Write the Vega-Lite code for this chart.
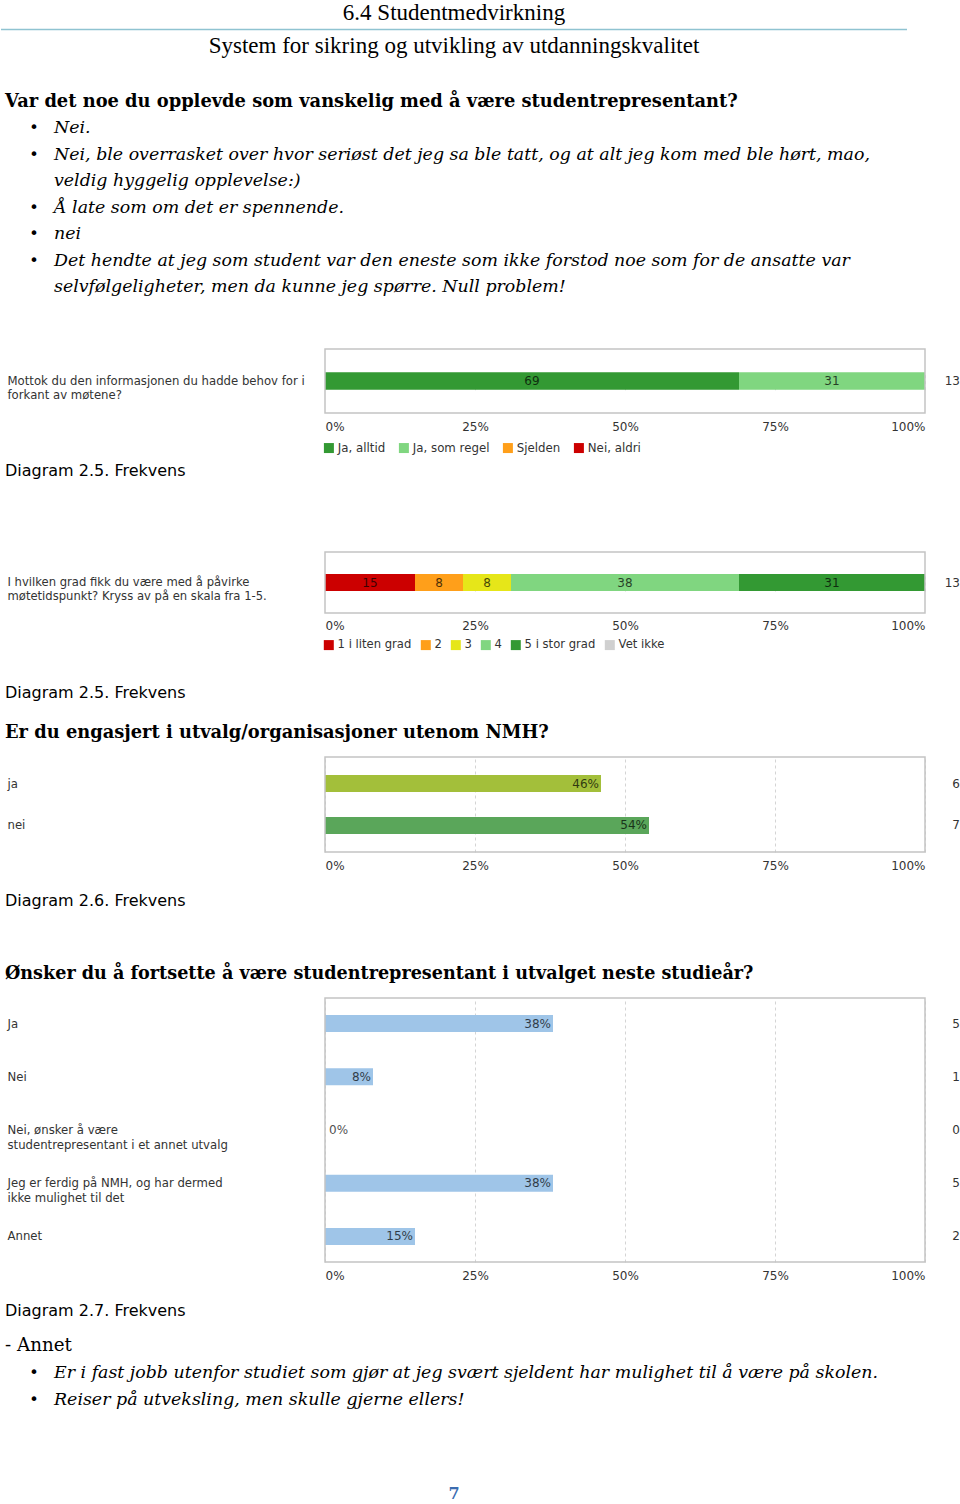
{
  "$schema": "https://vega.github.io/schema/vega-lite/v6.json",
  "padding": 0,
  "background": "white",
  "spacing": 0,
  "bounds": "flush",
  "resolve": {"scale": {"color": "independent", "x": "independent", "y": "independent"}, "legend": {"color": "independent"}},
  "config": {
    "view": {"stroke": null},
    "axis": {"domain": false, "ticks": false, "tickSize": 0, "labelFont": "DejaVu Sans", "labelFontSize": 12, "labelColor": "#333333", "labelOverlap": false},
    "legend": {"labelFont": "DejaVu Sans", "labelFontSize": 11.8, "labelColor": "#333333", "padding": 0},
    "text": {"font": "DejaVu Sans", "baseline": "middle"}
  },
  "vconcat": [
    {
      "width": 906, "height": 58,
      "data": {"values": [
        {"line": 1, "kind": "title", "text": "6.4 Studentmedvirkning"},
        {"line": 2, "kind": "rule", "text": ""},
        {"line": 3, "kind": "title", "text": "System for sikring og utvikling av utdanningskvalitet"}
      ]},
      "layer": [
        {"transform": [{"filter": "datum.kind == 'title'"}],
         "mark": {"type": "text", "font": "Liberation Serif", "fontSize": 23, "align": "center", "fill": "#000000"},
         "encoding": {"y": {"field": "line", "type": "ordinal", "scale": {"type": "point", "padding": 0, "range": [13, 46]}, "axis": null}, "text": {"field": "text"}}},
        {"transform": [{"filter": "datum.kind == 'rule'"}],
         "mark": {"type": "rule", "stroke": "#8fc3d1", "strokeWidth": 1.5},
         "encoding": {"y": {"field": "line", "type": "ordinal", "axis": null}}}
      ]
    },
    {
      "width": 960, "height": 291,
      "data": {"values": [
        {"line": 1, "kind": "heading", "level": 0, "bullet": false, "text": "Var det noe du opplevde som vanskelig med å være studentrepresentant?"},
        {"line": 2, "kind": "item", "level": 1, "bullet": true, "text": "Nei."},
        {"line": 3, "kind": "item", "level": 1, "bullet": true, "text": "Nei, ble overrasket over hvor seriøst det jeg sa ble tatt, og at alt jeg kom med ble hørt, mao,"},
        {"line": 4, "kind": "item", "level": 1, "bullet": false, "text": "veldig hyggelig opplevelse:)"},
        {"line": 5, "kind": "item", "level": 1, "bullet": true, "text": "Å late som om det er spennende."},
        {"line": 6, "kind": "item", "level": 1, "bullet": true, "text": "nei"},
        {"line": 7, "kind": "item", "level": 1, "bullet": true, "text": "Det hendte at jeg som student var den eneste som ikke forstod noe som for de ansatte var"},
        {"line": 8, "kind": "item", "level": 1, "bullet": false, "text": "selvfølgeligheter, men da kunne jeg spørre. Null problem!"}
      ]},
      "encoding": {
        "y": {"field": "line", "type": "ordinal", "scale": {"type": "point", "padding": 0, "range": [44, 229]}, "axis": null},
        "x": {"field": "level", "type": "quantitative", "scale": {"domain": [0, 1], "range": [4, 53]}, "axis": null}
      },
      "layer": [
        {"transform": [{"filter": "datum.kind == 'heading'"}],
         "mark": {"type": "text", "align": "left", "font": "DejaVu Serif", "fontSize": 17.85, "fontWeight": "bold", "fill": "#000000"},
         "encoding": {"text": {"field": "text"}}},
        {"transform": [{"filter": "datum.kind == 'item'"}],
         "mark": {"type": "text", "align": "left", "font": "DejaVu Serif", "fontSize": 17.4, "fontStyle": "italic", "fill": "#000000"},
         "encoding": {"text": {"field": "text"}}},
        {"transform": [{"filter": "datum.bullet"}],
         "mark": {"type": "text", "align": "center", "dx": -20, "font": "DejaVu Sans", "fontSize": 16, "fill": "#000000"},
         "encoding": {"text": {"value": "•"}}}
      ]
    },
    {
      "width": 960, "height": 64,
      "data": {"values": [
        {"question": "Mottok du den informasjonen du hadde behov for i\nforkant av møtene?", "answer": "Ja, alltid", "rank": 1, "pct": 69, "n": 13},
        {"question": "Mottok du den informasjonen du hadde behov for i\nforkant av møtene?", "answer": "Ja, som regel", "rank": 2, "pct": 31, "n": 13},
        {"question": "Mottok du den informasjonen du hadde behov for i\nforkant av møtene?", "answer": "Sjelden", "rank": 3, "pct": 0, "n": 13},
        {"question": "Mottok du den informasjonen du hadde behov for i\nforkant av møtene?", "answer": "Nei, aldri", "rank": 4, "pct": 0, "n": 13}
      ]},
      "layer": [
        {"mark": {"type": "bar"},
         "encoding": {
           "y": {"field": "question", "type": "nominal", "title": null, "scale": {"type": "band", "paddingInner": 0, "paddingOuter": 0, "range": [23.25, 40.75]},
                 "axis": {"labelAlign": "left", "labelBaseline": "middle", "offset": -6, "labelPadding": 0, "labelLimit": 500, "labelFontSize": 11.7, "labelExpr": "split(datum.label, '\\n')", "labelLineHeight": 14}},
           "x": {"field": "pct", "type": "quantitative", "stack": "zero", "title": null, "scale": {"domain": [0, 100], "range": [324, 924]},
                 "axis": {"values": [0, 25, 50, 75, 100], "labelExpr": "datum.value + '%'", "labelFlush": true, "grid": true, "gridDash": [3, 3], "gridColor": "#d4d4d4", "labelPadding": 8}},
           "color": {"field": "answer", "type": "nominal", "scale": {"domain": ["Ja, alltid", "Ja, som regel", "Sjelden", "Nei, aldri"], "range": ["#339933", "#80d680", "#ff9f1a", "#cc0000"]},
                     "legend": {"orient": "none", "legendX": 322, "legendY": 93, "direction": "horizontal", "title": null, "symbolType": "square", "symbolSize": 100, "symbolStrokeWidth": 0, "columnPadding": 12, "labelOffset": 3}},
           "order": {"field": "rank", "type": "quantitative"}
         }},
        {"transform": [{"filter": "datum.pct > 0"}],
         "mark": {"type": "text", "fontSize": 12, "fill": "#000000", "opacity": 0.7},
         "encoding": {
           "y": {"field": "question", "type": "nominal", "title": null},
           "x": {"field": "pct", "type": "quantitative", "stack": "zero", "bandPosition": 0.5, "title": null},
           "detail": {"field": "answer"},
           "order": {"field": "rank", "type": "quantitative"},
           "text": {"field": "pct", "type": "quantitative"}
         }},
        {"transform": [{"filter": "datum.rank == 1"}],
         "mark": {"type": "text", "align": "right", "dx": 35, "fontSize": 12, "fill": "#333333"},
         "encoding": {
           "y": {"field": "question", "type": "nominal", "title": null},
           "x": {"datum": 100},
           "text": {"field": "n", "type": "quantitative"}
         }},
        {"data": {"values": [{"frame": "plot"}]},
         "mark": {"type": "rect", "fill": "transparent", "stroke": "#c4c4c4", "strokeWidth": 1.5},
         "encoding": {"x": {"datum": 0}, "x2": {"datum": 100}}}
      ]
    },
    {
      "width": 960, "height": 139,
      "data": {"values": [{"line": 1, "level": 0, "text": "Diagram 2.5. Frekvens"}]},
      "mark": {"type": "text", "align": "left", "font": "DejaVu Sans", "fontSize": 16, "fill": "#000000"},
      "encoding": {
        "y": {"field": "line", "type": "ordinal", "scale": {"type": "point", "padding": 0, "range": [57.5, 57.5]}, "axis": null},
        "x": {"field": "level", "type": "quantitative", "scale": {"domain": [0, 1], "range": [4, 53]}, "axis": null},
        "text": {"field": "text"}
      }
    },
    {
      "width": 960, "height": 61,
      "data": {"values": [
        {"question": "I hvilken grad fikk du være med å påvirke\nmøtetidspunkt? Kryss av på en skala fra 1-5.", "answer": "1 i liten grad", "rank": 1, "pct": 15, "n": 13},
        {"question": "I hvilken grad fikk du være med å påvirke\nmøtetidspunkt? Kryss av på en skala fra 1-5.", "answer": "2", "rank": 2, "pct": 8, "n": 13},
        {"question": "I hvilken grad fikk du være med å påvirke\nmøtetidspunkt? Kryss av på en skala fra 1-5.", "answer": "3", "rank": 3, "pct": 8, "n": 13},
        {"question": "I hvilken grad fikk du være med å påvirke\nmøtetidspunkt? Kryss av på en skala fra 1-5.", "answer": "4", "rank": 4, "pct": 38, "n": 13},
        {"question": "I hvilken grad fikk du være med å påvirke\nmøtetidspunkt? Kryss av på en skala fra 1-5.", "answer": "5 i stor grad", "rank": 5, "pct": 31, "n": 13},
        {"question": "I hvilken grad fikk du være med å påvirke\nmøtetidspunkt? Kryss av på en skala fra 1-5.", "answer": "Vet ikke", "rank": 6, "pct": 0, "n": 13}
      ]},
      "layer": [
        {"mark": {"type": "bar"},
         "encoding": {
           "y": {"field": "question", "type": "nominal", "title": null, "scale": {"type": "band", "paddingInner": 0, "paddingOuter": 0, "range": [22, 39]},
                 "axis": {"labelAlign": "left", "labelBaseline": "middle", "offset": -6, "labelPadding": 0, "labelLimit": 500, "labelFontSize": 11.6, "labelExpr": "split(datum.label, '\\n')", "labelLineHeight": 14}},
           "x": {"field": "pct", "type": "quantitative", "stack": "zero", "title": null, "scale": {"domain": [0, 100], "range": [324, 924]},
                 "axis": {"values": [0, 25, 50, 75, 100], "labelExpr": "datum.value + '%'", "labelFlush": true, "grid": true, "gridDash": [3, 3], "gridColor": "#d4d4d4", "labelPadding": 7}},
           "color": {"field": "answer", "type": "nominal", "scale": {"domain": ["1 i liten grad", "2", "3", "4", "5 i stor grad", "Vet ikke"], "range": ["#cc0000", "#ff9f1a", "#e6e619", "#80d680", "#339933", "#d0d0d0"]},
                     "legend": {"orient": "none", "legendX": 322, "legendY": 87, "direction": "horizontal", "title": null, "symbolType": "square", "symbolSize": 100, "symbolStrokeWidth": 0, "columnPadding": 8, "labelOffset": 3, "labelFontSize": 11.6}},
           "order": {"field": "rank", "type": "quantitative"}
         }},
        {"transform": [{"filter": "datum.pct > 0"}],
         "mark": {"type": "text", "fontSize": 12, "fill": "#000000", "opacity": 0.7},
         "encoding": {
           "y": {"field": "question", "type": "nominal", "title": null},
           "x": {"field": "pct", "type": "quantitative", "stack": "zero", "bandPosition": 0.5, "title": null},
           "detail": {"field": "answer"},
           "order": {"field": "rank", "type": "quantitative"},
           "text": {"field": "pct", "type": "quantitative"}
         }},
        {"transform": [{"filter": "datum.rank == 1"}],
         "mark": {"type": "text", "align": "right", "dx": 35, "fontSize": 12, "fill": "#333333"},
         "encoding": {
           "y": {"field": "question", "type": "nominal", "title": null},
           "x": {"datum": 100},
           "text": {"field": "n", "type": "quantitative"}
         }},
        {"data": {"values": [{"frame": "plot"}]},
         "mark": {"type": "rect", "fill": "transparent", "stroke": "#c4c4c4", "strokeWidth": 1.5},
         "encoding": {"x": {"datum": 0}, "x2": {"datum": 100}}}
      ]
    },
    {
      "width": 960, "height": 144,
      "data": {"values": [
        {"line": 1, "kind": "caption", "level": 0, "text": "Diagram 2.5. Frekvens"},
        {"line": 2, "kind": "heading", "level": 0, "text": "Er du engasjert i utvalg/organisasjoner utenom NMH?"}
      ]},
      "encoding": {
        "y": {"field": "line", "type": "ordinal", "scale": {"type": "point", "padding": 0, "range": [79.5, 120]}, "axis": null},
        "x": {"field": "level", "type": "quantitative", "scale": {"domain": [0, 1], "range": [4, 53]}, "axis": null}
      },
      "layer": [
        {"transform": [{"filter": "datum.kind == 'caption'"}],
         "mark": {"type": "text", "align": "left", "font": "DejaVu Sans", "fontSize": 16, "fill": "#000000"},
         "encoding": {"text": {"field": "text"}}},
        {"transform": [{"filter": "datum.kind == 'heading'"}],
         "mark": {"type": "text", "align": "left", "font": "DejaVu Serif", "fontSize": 17.85, "fontWeight": "bold", "fill": "#000000"},
         "encoding": {"text": {"field": "text"}}}
      ]
    },
    {
      "width": 960, "height": 95,
      "data": {"values": [
        {"answer": "ja", "share": 0.46, "n": 6},
        {"answer": "nei", "share": 0.54, "n": 7}
      ]},
      "layer": [
        {"mark": {"type": "bar"},
         "encoding": {
           "y": {"field": "answer", "type": "nominal", "sort": null, "title": null, "scale": {"type": "band", "paddingInner": 0.595, "paddingOuter": 0.4285},
                 "axis": {"labelAlign": "left", "labelBaseline": "middle", "offset": -6, "labelPadding": 0, "labelLimit": 500, "labelFontSize": 11.7, "labelExpr": "split(datum.label, '\\n')", "labelLineHeight": 14.5}},
           "x": {"field": "share", "type": "quantitative", "stack": null, "title": null, "scale": {"domain": [0, 1], "range": [324, 924]},
                 "axis": {"values": [0, 0.25, 0.5, 0.75, 1], "format": ".0%", "labelFlush": true, "grid": true, "gridDash": [3, 3], "gridColor": "#d4d4d4", "labelPadding": 8}},
           "color": {"field": "answer", "type": "nominal", "scale": {"domain": ["ja", "nei"], "range": ["#a3bf3a", "#5aa65a"]}, "legend": null}
         }},
        {"transform": [{"filter": "datum.share > 0"}],
         "mark": {"type": "text", "align": "right", "dx": -2, "fontSize": 12, "fill": "#000000", "opacity": 0.7},
         "encoding": {
           "y": {"field": "answer", "type": "nominal", "sort": null, "title": null},
           "x": {"field": "share", "type": "quantitative", "stack": null, "title": null},
           "text": {"field": "share", "type": "quantitative", "format": ".0%"}
         }},
        {"mark": {"type": "text", "align": "right", "dx": 35, "fontSize": 12, "fill": "#333333"},
         "encoding": {
           "y": {"field": "answer", "type": "nominal", "sort": null, "title": null},
           "x": {"datum": 1},
           "text": {"field": "n", "type": "quantitative"}
         }},
        {"data": {"values": [{"frame": "plot"}]},
         "mark": {"type": "rect", "fill": "transparent", "stroke": "#c4c4c4", "strokeWidth": 1.5},
         "encoding": {"x": {"datum": 0}, "x2": {"datum": 1}}}
      ]
    },
    {
      "width": 960, "height": 146,
      "data": {"values": [
        {"line": 1, "kind": "caption", "level": 0, "text": "Diagram 2.6. Frekvens"},
        {"line": 2, "kind": "heading", "level": 0, "text": "Ønsker du å fortsette å være studentrepresentant i utvalget neste studieår?"}
      ]},
      "encoding": {
        "y": {"field": "line", "type": "ordinal", "scale": {"type": "point", "padding": 0, "range": [48.5, 122]}, "axis": null},
        "x": {"field": "level", "type": "quantitative", "scale": {"domain": [0, 1], "range": [4, 53]}, "axis": null}
      },
      "layer": [
        {"transform": [{"filter": "datum.kind == 'caption'"}],
         "mark": {"type": "text", "align": "left", "font": "DejaVu Sans", "fontSize": 16, "fill": "#000000"},
         "encoding": {"text": {"field": "text"}}},
        {"transform": [{"filter": "datum.kind == 'heading'"}],
         "mark": {"type": "text", "align": "left", "font": "DejaVu Serif", "fontSize": 17.6, "fontWeight": "bold", "fill": "#000000"},
         "encoding": {"text": {"field": "text"}}}
      ]
    },
    {
      "width": 960, "height": 264,
      "data": {"values": [
        {"answer": "Ja", "share": 0.38, "n": 5},
        {"answer": "Nei", "share": 0.08, "n": 1},
        {"answer": "Nei, ønsker å være\nstudentrepresentant i et annet utvalg", "share": 0, "n": 0},
        {"answer": "Jeg er ferdig på NMH, og har dermed\nikke mulighet til det", "share": 0.38, "n": 5},
        {"answer": "Annet", "share": 0.15, "n": 2}
      ]},
      "layer": [
        {"mark": {"type": "bar", "fill": "#9fc5e8"},
         "encoding": {
           "y": {"field": "answer", "type": "nominal", "sort": null, "title": null, "scale": {"type": "band", "paddingInner": 0.681, "paddingOuter": 0.3195},
                 "axis": {"labelAlign": "left", "labelBaseline": "middle", "offset": -6, "labelPadding": 0, "labelLimit": 500, "labelFontSize": 11.7, "labelExpr": "split(datum.label, '\\n')", "labelLineHeight": 15}},
           "x": {"field": "share", "type": "quantitative", "stack": null, "title": null, "scale": {"domain": [0, 1], "range": [324, 924]},
                 "axis": {"values": [0, 0.25, 0.5, 0.75, 1], "format": ".0%", "labelFlush": true, "grid": true, "gridDash": [3, 3], "gridColor": "#d4d4d4", "labelPadding": 8}}
         }},
        {"transform": [{"filter": "datum.share > 0"}],
         "mark": {"type": "text", "align": "right", "dx": -2, "fontSize": 12, "fill": "#000000", "opacity": 0.7},
         "encoding": {
           "y": {"field": "answer", "type": "nominal", "sort": null, "title": null},
           "x": {"field": "share", "type": "quantitative", "stack": null, "title": null},
           "text": {"field": "share", "type": "quantitative", "format": ".0%"}
         }},
        {"transform": [{"filter": "datum.share == 0"}],
         "mark": {"type": "text", "align": "left", "dx": 4, "fontSize": 12, "fill": "#000000", "opacity": 0.7},
         "encoding": {
           "y": {"field": "answer", "type": "nominal", "sort": null, "title": null},
           "x": {"field": "share", "type": "quantitative", "stack": null, "title": null},
           "text": {"field": "share", "type": "quantitative", "format": ".0%"}
         }},
        {"mark": {"type": "text", "align": "right", "dx": 35, "fontSize": 12, "fill": "#333333"},
         "encoding": {
           "y": {"field": "answer", "type": "nominal", "sort": null, "title": null},
           "x": {"datum": 1},
           "text": {"field": "n", "type": "quantitative"}
         }},
        {"data": {"values": [{"frame": "plot"}]},
         "mark": {"type": "rect", "fill": "transparent", "stroke": "#c4c4c4", "strokeWidth": 1.5},
         "encoding": {"x": {"datum": 0}, "x2": {"datum": 1}}}
      ]
    },
    {
      "width": 960, "height": 65,
      "data": {"values": [{"line": 1, "level": 0, "text": "Diagram 2.7. Frekvens"}]},
      "mark": {"type": "text", "align": "left", "font": "DejaVu Sans", "fontSize": 16, "fill": "#000000"},
      "encoding": {
        "y": {"field": "line", "type": "ordinal", "scale": {"type": "point", "padding": 0, "range": [48.5, 48.5]}, "axis": null},
        "x": {"field": "level", "type": "quantitative", "scale": {"domain": [0, 1], "range": [4, 53]}, "axis": null},
        "text": {"field": "text"}
      }
    },
    {
      "width": 960, "height": 123,
      "data": {"values": [
        {"line": 1, "kind": "plain", "level": 0, "bullet": false, "text": "- Annet"},
        {"line": 2, "kind": "item", "level": 1, "bullet": true, "text": "Er i fast jobb utenfor studiet som gjør at jeg svært sjeldent har mulighet til å være på skolen."},
        {"line": 3, "kind": "item", "level": 1, "bullet": true, "text": "Reiser på utveksling, men skulle gjerne ellers!"}
      ]},
      "encoding": {
        "y": {"field": "line", "type": "ordinal", "scale": {"type": "point", "padding": 0, "range": [19, 73]}, "axis": null},
        "x": {"field": "level", "type": "quantitative", "scale": {"domain": [0, 1], "range": [4, 53]}, "axis": null}
      },
      "layer": [
        {"transform": [{"filter": "datum.kind == 'plain'"}],
         "mark": {"type": "text", "align": "left", "font": "DejaVu Serif", "fontSize": 18.3, "fill": "#000000"},
         "encoding": {"text": {"field": "text"}}},
        {"transform": [{"filter": "datum.kind == 'item'"}],
         "mark": {"type": "text", "align": "left", "font": "DejaVu Serif", "fontSize": 17.4, "fontStyle": "italic", "fill": "#000000"},
         "encoding": {"text": {"field": "text"}}},
        {"transform": [{"filter": "datum.bullet"}],
         "mark": {"type": "text", "align": "center", "dx": -20, "font": "DejaVu Sans", "fontSize": 16, "fill": "#000000"},
         "encoding": {"text": {"value": "•"}}}
      ]
    },
    {
      "width": 906, "height": 54,
      "data": {"values": [{"line": 1, "text": "7"}]},
      "mark": {"type": "text", "align": "center", "font": "DejaVu Serif", "fontSize": 16, "fontWeight": "bold", "fill": "#3b6cb0"},
      "encoding": {
        "y": {"field": "line", "type": "ordinal", "scale": {"type": "point", "padding": 0, "range": [44, 44]}, "axis": null},
        "text": {"field": "text"}
      }
    }
  ]
}
